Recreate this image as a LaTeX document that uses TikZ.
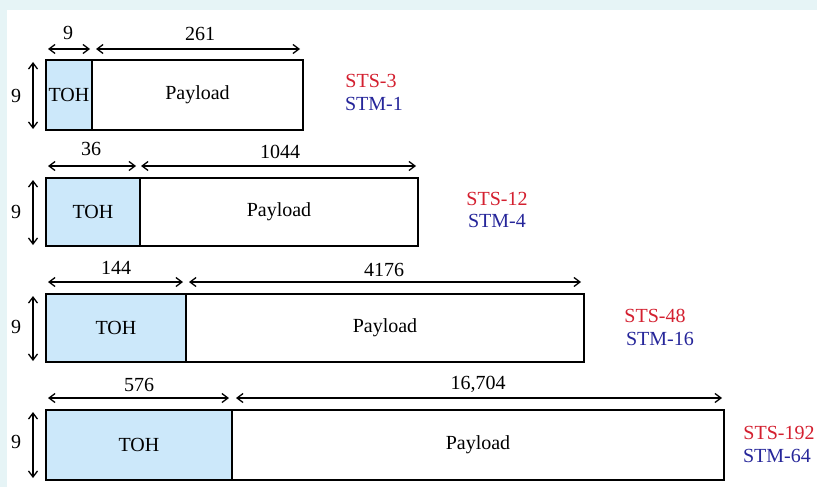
\documentclass[tikz,border=0pt]{standalone}
\usepackage{fontspec}
\setmainfont{Liberation Serif}
\usetikzlibrary{arrows.meta}
\definecolor{bgcyan}{HTML}{E6F4F6}
\definecolor{tohblue}{HTML}{CCE8FA}
\definecolor{stsred}{HTML}{D42030}
\definecolor{stmblue}{HTML}{26269A}
\tikzset{
  tohbox/.style={draw=black, line width=1.4pt, fill=tohblue, anchor=north west, inner sep=0pt, outer sep=0pt, font=\fontsize{20}{22}\selectfont},
  paybox/.style={draw=black, line width=1.4pt, fill=white, anchor=north west, inner sep=0pt, outer sep=0pt, font=\fontsize{20}{22}\selectfont},
  dimarrow/.style={line width=1.3pt, {Straight Barb[length=6pt,width=9pt]}-{Straight Barb[length=6pt,width=9pt]}},
  dimlabel/.style={font=\fontsize{20}{22}\selectfont, inner sep=0pt},
  stslabel/.style={font=\fontsize{20}{22}\selectfont, text=stsred, inner sep=0pt},
  stmlabel/.style={font=\fontsize{20}{22}\selectfont, text=stmblue, inner sep=0pt}
}
\begin{document}
\begin{tikzpicture}[x=1pt,y=-1pt]
\useasboundingbox (0,0) rectangle (817,487);
\fill[bgcyan] (0,0) rectangle (817,487);
\fill[white] (7,10) rectangle (817,487);

% Row 1
\node[tohbox, minimum width=46pt, minimum height=70pt] (toh1) at (46,60) {TOH};
\node[paybox, minimum width=211pt, minimum height=70pt] (pay1) at (toh1.north east) {Payload};
\coordinate (a1l) at (48,49); \coordinate (a1m) at (90,49);
\coordinate (b1l) at (96,49); \coordinate (b1r) at (300,49);
\coordinate (v1t) at (33,62); \coordinate (v1b) at (33,129);
\draw[dimarrow] (a1l) -- (a1m);
\draw[dimarrow] (b1l) -- (b1r);
\draw[dimarrow] (v1t) -- (v1b);
\node[dimlabel] (n1a) at (68,33) {9};
\node[dimlabel] (n1b) at (200,34) {261};
\node[dimlabel] (n1v) at (16,96) {9};
\node[stslabel] (s1) at (371,81) {STS-3};
\node[stmlabel] (m1) at (374,104) {STM-1};

% Row 2
\node[tohbox, minimum width=94pt, minimum height=68pt] (toh2) at (46,178) {TOH};
\node[paybox, minimum width=278pt, minimum height=68pt] (pay2) at (toh2.north east) {Payload};
\coordinate (a2l) at (48,166); \coordinate (a2m) at (136,166);
\coordinate (b2l) at (141,166); \coordinate (b2r) at (416,166);
\coordinate (v2t) at (33,180); \coordinate (v2b) at (33,245);
\draw[dimarrow] (a2l) -- (a2m);
\draw[dimarrow] (b2l) -- (b2r);
\draw[dimarrow] (v2t) -- (v2b);
\node[dimlabel] (n2a) at (91,149) {36};
\node[dimlabel] (n2b) at (280,152) {1044};
\node[dimlabel] (n2v) at (16,212) {9};
\node[stslabel] (s2) at (497,199) {STS-12};
\node[stmlabel] (m2) at (497,221) {STM-4};

% Row 3
\node[tohbox, minimum width=140pt, minimum height=68pt] (toh3) at (46,294) {TOH};
\node[paybox, minimum width=398pt, minimum height=68pt] (pay3) at (toh3.north east) {Payload};
\coordinate (a3l) at (48,282); \coordinate (a3m) at (183,282);
\coordinate (b3l) at (189,282); \coordinate (b3r) at (581,282);
\coordinate (v3t) at (33,296); \coordinate (v3b) at (33,361);
\draw[dimarrow] (a3l) -- (a3m);
\draw[dimarrow] (b3l) -- (b3r);
\draw[dimarrow] (v3t) -- (v3b);
\node[dimlabel] (n3a) at (116,268) {144};
\node[dimlabel] (n3b) at (384,270) {4176};
\node[dimlabel] (n3v) at (16,327) {9};
\node[stslabel] (s3) at (655,316) {STS-48};
\node[stmlabel] (m3) at (660,339) {STM-16};

% Row 4
\node[tohbox, minimum width=186pt, minimum height=70pt] (toh4) at (46,410) {TOH};
\node[paybox, minimum width=492pt, minimum height=70pt] (pay4) at (toh4.north east) {Payload};
\coordinate (a4l) at (48,398); \coordinate (a4m) at (229,398);
\coordinate (b4l) at (236,398); \coordinate (b4r) at (722,398);
\coordinate (v4t) at (33,412); \coordinate (v4b) at (33,478);
\draw[dimarrow] (a4l) -- (a4m);
\draw[dimarrow] (b4l) -- (b4r);
\draw[dimarrow] (v4t) -- (v4b);
\node[dimlabel] (n4a) at (139,385) {576};
\node[dimlabel] (n4b) at (478,384) {16,704};
\node[dimlabel] (n4v) at (16,442) {9};
\node[stslabel] (s4) at (779,433) {STS-192};
\node[stmlabel] (m4) at (777,456) {STM-64};
\end{tikzpicture}
\end{document}
